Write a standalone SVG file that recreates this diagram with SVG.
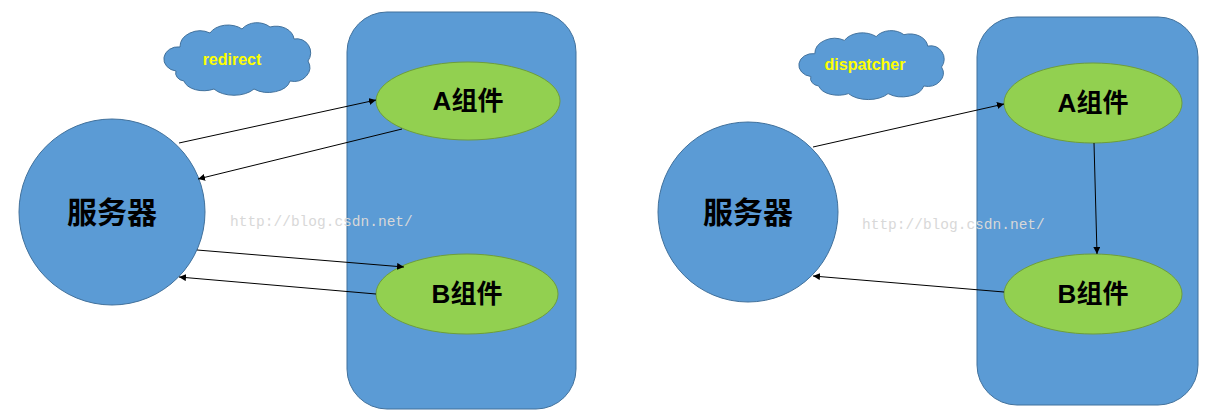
<svg xmlns="http://www.w3.org/2000/svg" xmlns:xlink="http://www.w3.org/1999/xlink" width="1216" height="418" viewBox="0 0 1216 418">
<style>
.blue{fill:#5B9BD5;stroke:#41719C;stroke-width:1}
.green{fill:#92D050;stroke:#6E9E3A;stroke-width:1}
.big{font-family:"Liberation Sans","Noto Sans CJK SC",sans-serif;font-size:30px;font-weight:700;fill:#000;text-anchor:middle;dominant-baseline:central}
.comp{font-family:"Liberation Sans","Noto Sans CJK SC",sans-serif;font-size:26px;font-weight:700;fill:#000;text-anchor:middle;dominant-baseline:central}
.cl{font-family:"Liberation Sans","Noto Sans",sans-serif;font-size:16px;font-weight:700;fill:#FFFF00;text-anchor:middle;dominant-baseline:central}
.wm{font-family:"Liberation Mono",monospace;font-size:14.5px;fill:#d8d8d8}
.conn line{stroke:#000;stroke-width:1;marker-end:url(#ah)}
</style>
<defs>
<marker id="ah" viewBox="0 0 10 10" refX="10" refY="5" markerWidth="7" markerHeight="7" orient="auto" markerUnits="userSpaceOnUse">
<path d="M0,0 L10,5 L0,10 Z" fill="#000"/>
</marker>
<path id="cloud" d="M14,50 A14,12 0 0 1 18,26 A20,16 0 0 1 48,12 A20,14 0 0 1 80,8 A18,14 0 0 1 108,6 A18,14 0 0 1 132,18 A14,14 0 0 1 146,40 A16,14 0 0 1 128,60 A22,14 0 0 1 92,68 A24,14 0 0 1 52,68 A20,12 0 0 1 22,60 A10,8 0 0 1 14,50 Z"/>
</defs>
<rect width="1216" height="418" fill="#fff"/>

<g id="left-panel"><rect class="blue" x="347" y="12" width="229" height="397" rx="40" ry="40"/></g>
<g id="right-panel"><rect class="blue" x="977" y="17" width="221" height="388" rx="40" ry="40"/></g>

<g id="cloud-redirect"><use xlink:href="#cloud" class="blue" transform="translate(162,21)"/><text class="cl" x="232" y="59">redirect</text></g>
<g id="cloud-dispatcher"><use xlink:href="#cloud" class="blue" transform="translate(797,29) scale(0.99,0.95)"/><text class="cl" x="865" y="64">dispatcher</text></g>

<g id="server-left"><circle class="blue" cx="112" cy="212" r="93"/><text class="big" x="112" y="212">服务器</text></g>
<g id="server-right"><circle class="blue" cx="748" cy="212" r="90"/><text class="big" x="748" y="212">服务器</text></g>

<g id="a-left"><ellipse class="green" cx="468" cy="101" rx="92" ry="39"/><text class="comp" x="468" y="101">A组件</text></g>
<g id="b-left"><ellipse class="green" cx="467" cy="294" rx="91" ry="40"/><text class="comp" x="467" y="294">B组件</text></g>
<g id="a-right"><ellipse class="green" cx="1093" cy="103" rx="89" ry="40"/><text class="comp" x="1093" y="103">A组件</text></g>
<g id="b-right"><ellipse class="green" cx="1093" cy="294" rx="89" ry="40"/><text class="comp" x="1093" y="294">B组件</text></g>

<g id="connectors" class="conn">
<line x1="179" y1="143" x2="376" y2="100"/>
<line x1="402" y1="129" x2="198" y2="179"/>
<line x1="197" y1="250" x2="404" y2="267"/>
<line x1="376" y1="294" x2="179" y2="277"/>
<line x1="813" y1="147" x2="1004" y2="104"/>
<line x1="1094" y1="143" x2="1097" y2="254"/>
<line x1="1004" y1="292" x2="813" y2="276"/>
</g>

<g id="watermarks">
<text class="wm" x="230" y="226">http://blog.csdn.net/</text>
<text class="wm" x="862" y="229">http://blog.csdn.net/</text>
</g>
</svg>
